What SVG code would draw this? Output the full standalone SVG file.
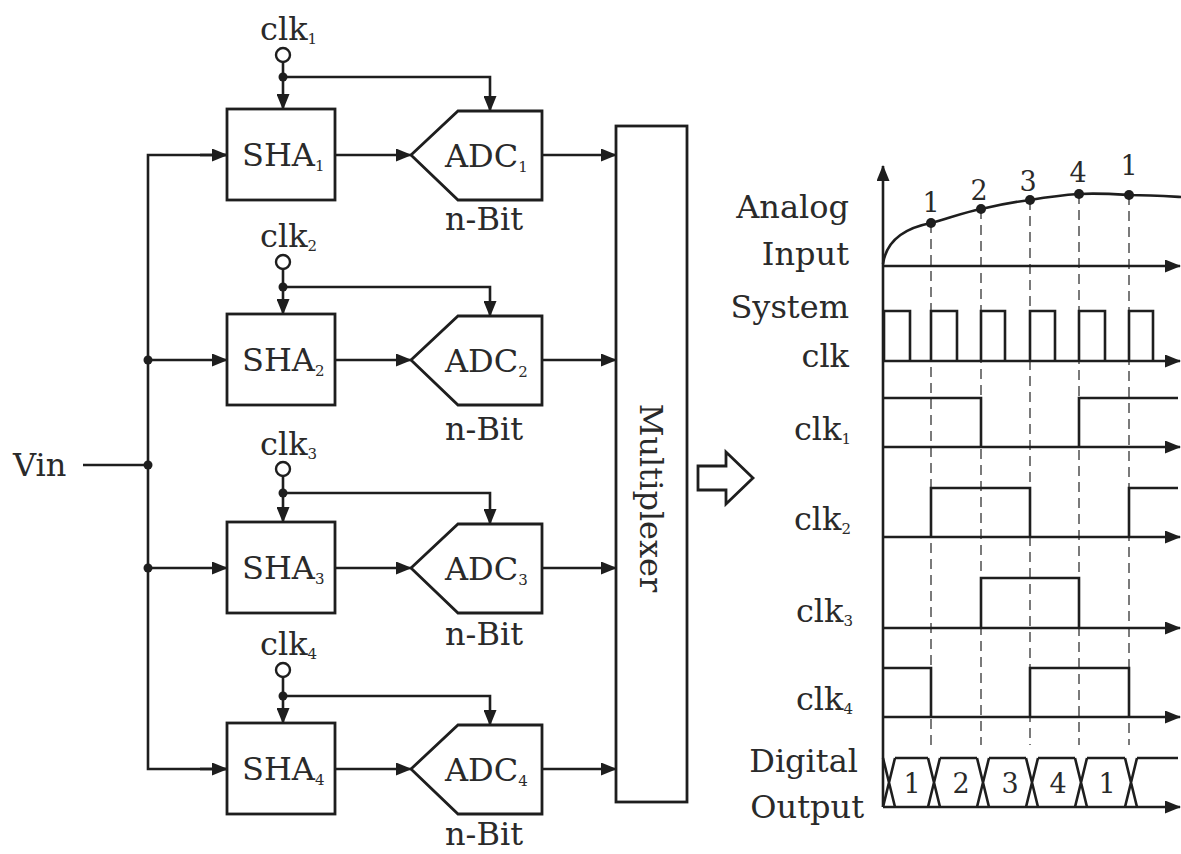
<svg xmlns="http://www.w3.org/2000/svg" width="1181" height="854" viewBox="0 0 1181 854">
<defs>
<style>
.ln{stroke:#1e1e1e;stroke-width:2.6;fill:none}
.box{stroke:#1e1e1e;stroke-width:2.8;fill:#fff}
.t{font-family:"DejaVu Serif","Liberation Serif",serif;font-size:32px;fill:#2a2a2a}
.n{font-family:"DejaVu Serif","Liberation Serif",serif;font-size:27px;fill:#2a2a2a;text-anchor:middle}
.sub{font-size:15px}
.dash{stroke:#7a7a7a;stroke-width:2;stroke-dasharray:10 6;fill:none}
.dot{fill:#1e1e1e}
.ring{fill:#fff;stroke:#1e1e1e;stroke-width:2.4}
.end{text-anchor:end}
</style>
<marker id="ah" viewBox="0 0 16 13" markerWidth="16" markerHeight="13" refX="15" refY="6.5" orient="auto" markerUnits="userSpaceOnUse">
<path d="M0,0 L16,6.5 L0,13 z" fill="#1e1e1e"/>
</marker>
</defs>
<rect width="1181" height="854" fill="#fff"/>

<g id="connectors">
<path class="ln" d="M83,465 H148"/>
<path class="ln" d="M227,155 H148 V769 H227"/>
<path class="ln" d="M200,155 H227" marker-end="url(#ah)"/>
<path class="ln" d="M148,360 H227" marker-end="url(#ah)"/>
<path class="ln" d="M148,568 H227" marker-end="url(#ah)"/>
<path class="ln" d="M200,769 H227" marker-end="url(#ah)"/>
<circle class="dot" cx="148" cy="360" r="4.5"/>
<circle class="dot" cx="148" cy="465" r="4.5"/>
<circle class="dot" cx="148" cy="568" r="4.5"/>
<path class="ln" d="M335,155 H411" marker-end="url(#ah)"/>
<path class="ln" d="M335,360 H411" marker-end="url(#ah)"/>
<path class="ln" d="M335,568 H411" marker-end="url(#ah)"/>
<path class="ln" d="M335,769 H411" marker-end="url(#ah)"/>
<path class="ln" d="M542,155 H616" marker-end="url(#ah)"/>
<path class="ln" d="M542,360 H616" marker-end="url(#ah)"/>
<path class="ln" d="M542,568 H616" marker-end="url(#ah)"/>
<path class="ln" d="M542,769 H616" marker-end="url(#ah)"/>
<path class="ln" d="M283,62 V109" marker-end="url(#ah)"/>
<path class="ln" d="M283,77 H490 V111" marker-end="url(#ah)"/>
<circle class="dot" cx="283" cy="77" r="4.5"/>
<path class="ln" d="M283,269 V314" marker-end="url(#ah)"/>
<path class="ln" d="M283,287 H490 V316" marker-end="url(#ah)"/>
<circle class="dot" cx="283" cy="287" r="4.5"/>
<path class="ln" d="M283,476 V522" marker-end="url(#ah)"/>
<path class="ln" d="M283,493 H490 V524" marker-end="url(#ah)"/>
<circle class="dot" cx="283" cy="493" r="4.5"/>
<path class="ln" d="M283,677 V723" marker-end="url(#ah)"/>
<path class="ln" d="M283,696 H490 V725" marker-end="url(#ah)"/>
<circle class="dot" cx="283" cy="696" r="4.5"/>
</g>

<g id="vin"><text class="t" x="13" y="476">Vin</text></g>

<g id="clk1"><text class="t" x="260" y="40">clk<tspan class="sub" dy="4">1</tspan></text><circle class="ring" cx="283" cy="55" r="7"/></g>
<g id="clk2"><text class="t" x="260" y="247">clk<tspan class="sub" dy="4">2</tspan></text><circle class="ring" cx="283" cy="262" r="7"/></g>
<g id="clk3"><text class="t" x="260" y="455">clk<tspan class="sub" dy="4">3</tspan></text><circle class="ring" cx="283" cy="469" r="7"/></g>
<g id="clk4"><text class="t" x="260" y="655">clk<tspan class="sub" dy="4">4</tspan></text><circle class="ring" cx="283" cy="670" r="7"/></g>

<g id="sha1"><rect class="box" x="227" y="109" width="108" height="91"/><text class="t" x="242" y="166">SHA<tspan class="sub" dy="5">1</tspan></text></g>
<g id="sha2"><rect class="box" x="227" y="314" width="108" height="91"/><text class="t" x="242" y="371">SHA<tspan class="sub" dy="5">2</tspan></text></g>
<g id="sha3"><rect class="box" x="227" y="522" width="108" height="91"/><text class="t" x="242" y="579">SHA<tspan class="sub" dy="5">3</tspan></text></g>
<g id="sha4"><rect class="box" x="227" y="723" width="108" height="91"/><text class="t" x="242" y="780">SHA<tspan class="sub" dy="5">4</tspan></text></g>

<g id="adc1"><polygon class="box" points="411,155 458,111 542,111 542,200 458,200"/><text class="t" x="445" y="167">ADC<tspan class="sub" dy="5">1</tspan></text><text class="t" x="445" y="230">n-Bit</text></g>
<g id="adc2"><polygon class="box" points="411,360 458,316 542,316 542,405 458,405"/><text class="t" x="445" y="372">ADC<tspan class="sub" dy="5">2</tspan></text><text class="t" x="445" y="440">n-Bit</text></g>
<g id="adc3"><polygon class="box" points="411,568 458,524 542,524 542,613 458,613"/><text class="t" x="445" y="580">ADC<tspan class="sub" dy="5">3</tspan></text><text class="t" x="445" y="645">n-Bit</text></g>
<g id="adc4"><polygon class="box" points="411,769 458,725 542,725 542,814 458,814"/><text class="t" x="445" y="781">ADC<tspan class="sub" dy="5">4</tspan></text><text class="t" x="445" y="845">n-Bit</text></g>

<g id="mux"><rect class="box" x="616" y="126" width="71" height="676"/><text class="t" transform="translate(640,498) rotate(90)" text-anchor="middle">Multiplexer</text></g>

<g id="bigarrow"><polygon class="box" stroke-width="2.4" points="698,466 726,466 726,452 753,478 726,504 726,490 698,490"/></g>

<g id="timing">
<text class="t end" x="849" y="218">Analog</text>
<text class="t end" x="849" y="265">Input</text>
<text class="t end" x="849" y="318">System</text>
<text class="t end" x="849" y="367">clk</text>
<text class="t end" x="851" y="440">clk<tspan class="sub" dy="4">1</tspan></text>
<text class="t end" x="851" y="530">clk<tspan class="sub" dy="4">2</tspan></text>
<text class="t end" x="853" y="622">clk<tspan class="sub" dy="4">3</tspan></text>
<text class="t end" x="853" y="710">clk<tspan class="sub" dy="4">4</tspan></text>
<text class="t end" x="858" y="772">Digital</text>
<text class="t end" x="864" y="818">Output</text>

<path class="dash" d="M931,223 V745 M981,209 V745 M1030,200 V745 M1079,194 V745 M1129,195 V745"/>

<path class="ln" d="M883,807 V166" marker-end="url(#ah)"/>
<path class="ln" d="M883,266 H1180" marker-end="url(#ah)"/>
<path class="ln" d="M883,361 H1180" marker-end="url(#ah)"/>
<path class="ln" d="M883,447 H1180" marker-end="url(#ah)"/>
<path class="ln" d="M883,537 H1180" marker-end="url(#ah)"/>
<path class="ln" d="M883,628 H1180" marker-end="url(#ah)"/>
<path class="ln" d="M883,717 H1180" marker-end="url(#ah)"/>
<path class="ln" d="M883,807 H1180" marker-end="url(#ah)"/>

<path class="ln" d="M883,264 C886,243 900,229 931,223 C952,217 966,212 981,209 C998,205 1014,202 1030,200 C1048,197 1063,195 1079,194 C1098,193 1113,194 1129,195 C1148,195 1164,196 1181,197"/>
<circle class="dot" cx="931" cy="223" r="5"/>
<circle class="dot" cx="981" cy="209" r="5"/>
<circle class="dot" cx="1030" cy="200" r="5"/>
<circle class="dot" cx="1079" cy="194" r="5"/>
<circle class="dot" cx="1129" cy="195" r="5"/>
<text class="n" x="931" y="212">1</text>
<text class="n" x="979" y="200">2</text>
<text class="n" x="1028" y="191">3</text>
<text class="n" x="1078" y="182">4</text>
<text class="n" x="1129" y="175">1</text>

<path class="ln" d="M884,361 V311 H910 V361 M931,361 V311 H957 V361 M981,361 V311 H1005 V361 M1030,361 V311 H1055 V361 M1079,361 V311 H1105 V361 M1129,361 V311 H1153 V361"/>
<path class="ln" d="M883,398 H981 V447 M1079,447 V398 H1178"/>
<path class="ln" d="M931,537 V488 H1030 V537 M1129,537 V488 H1178"/>
<path class="ln" d="M981,628 V578 H1079 V628"/>
<path class="ln" d="M883,668 H931 V717 M1030,717 V668 H1129 V717"/>

<path class="ln" d="M883,758 L895,807 M895,758 L883,807 M895,758 H928 M928,758 L940,807 M940,758 L928,807 M940,758 H977 M977,758 L989,807 M989,758 L977,807 M989,758 H1026 M1026,758 L1038,807 M1038,758 L1026,807 M1038,758 H1075 M1075,758 L1087,807 M1087,758 L1075,807 M1087,758 H1125 M1125,758 L1137,807 M1137,758 L1125,807 M1137,758 H1178"/>
<text class="n" x="912" y="793">1</text>
<text class="n" x="961" y="793">2</text>
<text class="n" x="1010" y="793">3</text>
<text class="n" x="1058" y="793">4</text>
<text class="n" x="1107" y="793">1</text>
</g>
</svg>
